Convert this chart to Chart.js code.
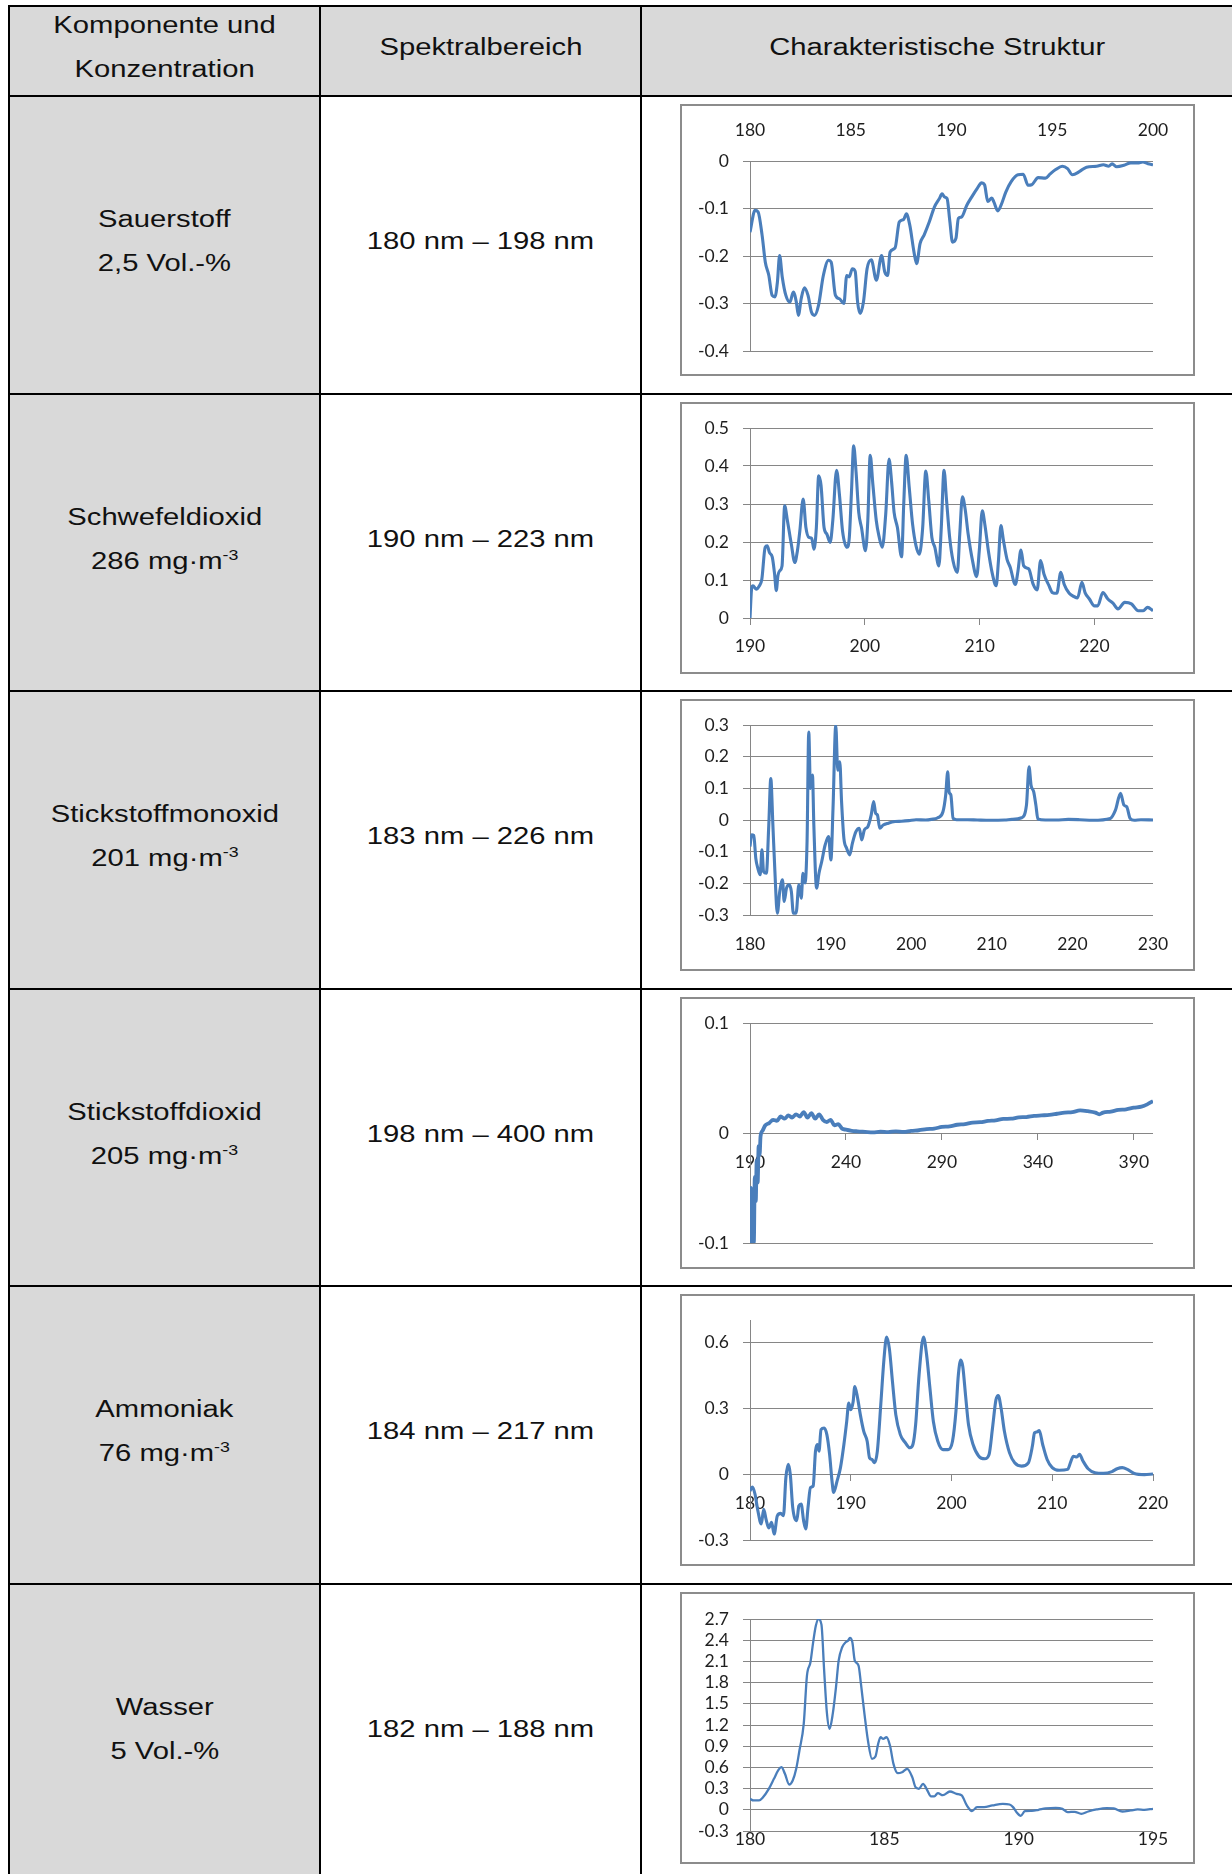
<!DOCTYPE html>
<html>
<head>
<meta charset="utf-8">
<script src="https://cdn.jsdelivr.net/npm/chart.js@4.4.1/dist/chart.umd.min.js"></script>
<style>
body { margin: 0; background: #fff; }
#page { position: relative; width: 1232px; height: 1874px; overflow: hidden; font-family: "Liberation Sans", Arial, sans-serif; color: #111; }
.bg { position: absolute; background: #d9d9d9; }
.hl { position: absolute; left: 8px; width: 1240px; height: 2px; background: #000; }
.vl { position: absolute; top: 5px; width: 2px; height: 1890px; background: #000; }
.cell { position: absolute; display: flex; align-items: center; justify-content: center; text-align: center; font-size: 23px; line-height: 44px; padding-bottom: 8px; box-sizing: border-box; }
.cell span { display: inline-block; transform: scaleX(1.27); white-space: nowrap; }
sup { font-size: 14px; line-height: 0; vertical-align: 9px; }
.box { position: absolute; left: 680px; width: 511px; height: 268px; border: 2px solid #8c8c8c; background: #fff; }
.box canvas { display: block; }
</style>
</head>
<body>
<div id="page"></div>
<script>
// table text
const headers = ['Komponente und<br>Konzentration', 'Spektralbereich', 'Charakteristische Struktur'];
const components = ['Sauerstoff', 'Schwefeldioxid', 'Stickstoffmonoxid', 'Stickstoffdioxid', 'Ammoniak', 'Wasser'];
const concentrations = ['2,5 Vol.-%', '286 mg·m<sup>-3</sup>', '201 mg·m<sup>-3</sup>', '205 mg·m<sup>-3</sup>', '76 mg·m<sup>-3</sup>', '5 Vol.-%'];
const ranges = ['180 nm – 198 nm', '190 nm – 223 nm', '183 nm – 226 nm', '198 nm – 400 nm', '184 nm – 217 nm', '182 nm – 188 nm'];

// Sauerstoff
const o2Wl = [180.0,180.25,180.4,180.6,180.76,180.93,181.1,181.24,181.36,181.47,
  181.6,181.78,181.98,182.15,182.3,182.4,182.54,182.7,182.88,183.05,
  183.2,183.4,183.64,183.9,184.03,184.24,184.44,184.66,184.8,184.92,
  185.08,185.22,185.34,185.47,185.63,185.81,186.02,186.27,186.53,186.69,
  186.83,186.95,187.2,187.41,187.63,187.76,187.93,188.14,188.27,188.44,
  188.64,188.9,189.15,189.4,189.53,189.66,189.78,189.92,190.05,190.22,
  190.34,190.5,190.76,191.0,191.27,191.5,191.64,191.8,192.0,192.1,
  192.3,192.46,192.7,192.97,193.3,193.56,193.8,193.98,194.3,194.66,
  194.9,195.17,195.5,195.76,196.0,196.36,196.7,197.2,197.54,197.8,
  197.97,198.2,198.56,198.9,199.24,199.5,199.75,200.0];
const o2Abs = [-0.15,-0.104,-0.107,-0.156,-0.213,-0.24,-0.283,-0.286,-0.255,-0.199,
  -0.244,-0.283,-0.297,-0.276,-0.297,-0.325,-0.29,-0.267,-0.283,-0.318,
  -0.325,-0.304,-0.241,-0.209,-0.213,-0.283,-0.29,-0.30,-0.241,-0.244,
  -0.227,-0.232,-0.297,-0.321,-0.297,-0.227,-0.208,-0.251,-0.199,-0.234,
  -0.241,-0.192,-0.183,-0.128,-0.123,-0.111,-0.135,-0.192,-0.216,-0.174,
  -0.156,-0.128,-0.097,-0.079,-0.069,-0.076,-0.079,-0.128,-0.171,-0.163,
  -0.121,-0.118,-0.093,-0.076,-0.058,-0.046,-0.05,-0.085,-0.078,-0.086,
  -0.105,-0.093,-0.065,-0.043,-0.029,-0.028,-0.051,-0.05,-0.035,-0.036,
  -0.027,-0.018,-0.011,-0.016,-0.029,-0.022,-0.013,-0.011,-0.008,-0.011,
  -0.006,-0.012,-0.009,-0.004,-0.004,-0.002,-0.006,-0.008];
const o2XTicks = [180, 185, 190, 195, 200];
const o2YTicks = [-0.4, -0.3, -0.2, -0.1, 0];

// Schwefeldioxid
const so2Wl = [190,190.15,190.26,190.53,190.82,191.03,191.32,191.5,191.7,191.94,
  192.14,192.29,192.43,192.58,192.79,193.02,193.26,193.6,193.9,194.13,
  194.34,194.63,194.87,195.13,195.37,195.57,195.78,195.98,196.19,196.45,
  196.69,196.98,197.21,197.54,197.8,198.06,198.45,198.65,198.83,199.03,
  199.24,199.47,199.71,200.06,200.26,200.47,200.7,201.0,201.23,201.52,
  201.82,202.11,202.35,202.55,202.84,203.2,203.4,203.6,203.87,204.16,
  204.46,204.75,205.04,205.31,205.57,205.84,206.1,206.45,206.66,206.9,
  207.1,207.39,207.68,208.06,208.27,208.5,208.74,209.0,209.38,209.74,
  209.97,210.23,210.47,210.76,211.11,211.44,211.64,211.85,212.08,212.38,
  212.67,213.11,213.34,213.6,213.84,214.28,214.66,215.01,215.31,215.6,
  216.04,216.33,216.72,217.07,217.36,217.8,218.24,218.53,218.91,219.18,
  219.56,220.0,220.29,220.73,221.17,221.61,222.05,222.64,223.22,223.81,
  224.25,224.63,225.1];
const so2Abs = [0,0.08,0.085,0.076,0.085,0.102,0.186,0.19,0.172,0.16,
  0.116,0.072,0.111,0.124,0.137,0.295,0.256,0.194,0.146,0.177,
  0.229,0.313,0.238,0.212,0.21,0.181,0.238,0.374,0.348,0.238,
  0.221,0.199,0.256,0.389,0.321,0.229,0.186,0.212,0.326,0.453,
  0.383,0.278,0.238,0.177,0.256,0.428,0.352,0.256,0.216,0.186,
  0.273,0.418,0.352,0.278,0.238,0.161,0.308,0.428,0.343,0.247,
  0.19,0.168,0.238,0.387,0.308,0.212,0.186,0.137,0.238,0.389,
  0.317,0.212,0.151,0.12,0.221,0.319,0.286,0.221,0.151,0.109,
  0.177,0.282,0.243,0.177,0.116,0.085,0.151,0.243,0.203,0.155,
  0.133,0.088,0.124,0.179,0.137,0.129,0.089,0.074,0.151,0.116,
  0.085,0.067,0.065,0.12,0.089,0.065,0.056,0.053,0.094,0.067,
  0.05,0.032,0.032,0.067,0.05,0.039,0.024,0.041,0.037,0.019,
  0.019,0.028,0.019];
const so2XTicks = [190, 200, 210, 220];
const so2YTicks = [0, 0.1, 0.2, 0.3, 0.4, 0.5];

// Stickstoffmonoxid
const noWl = [180,180.2,180.47,180.72,180.97,181.27,181.48,181.69,182.03,182.33,
  182.58,182.84,183.09,183.39,183.69,184.03,184.24,184.53,184.87,185.13,
  185.38,185.72,186.06,186.36,186.57,186.82,187.08,187.29,187.5,187.75,
  187.92,188.26,188.56,188.9,189.32,189.75,190.04,190.3,190.64,190.89,
  191.14,191.36,191.65,191.99,192.37,192.71,193.14,193.56,193.86,194.19,
  194.62,195.04,195.34,195.59,195.81,196.1,196.53,197.16,198.0,198.8,
  199.7,200.6,201.8,202.5,203.3,203.94,204.28,204.53,204.7,204.92,
  205.2,205.63,207.0,208.2,209.8,211.6,212.5,213.7,214.3,214.62,
  214.87,215.2,215.47,215.72,216.65,218.0,219.5,220.9,222.5,224.7,
  225.34,225.97,226.4,226.74,227.16,227.67,228.5,230];
const noAbs = [-0.084,-0.047,-0.049,-0.121,-0.152,-0.173,-0.094,-0.163,-0.168,-0.016,
  0.131,-0.016,-0.163,-0.294,-0.226,-0.189,-0.257,-0.215,-0.205,-0.226,
  -0.294,-0.294,-0.205,-0.247,-0.168,-0.199,-0.068,0.278,0.1,0.142,
  -0.016,-0.215,-0.168,-0.131,-0.079,-0.052,-0.126,0.037,0.299,0.157,
  0.184,0.058,-0.058,-0.089,-0.11,-0.073,-0.037,-0.026,-0.063,-0.031,
  -0.021,0.016,0.058,0.021,0.016,-0.026,-0.016,-0.01,-0.005,-0.004,
  -0.002,0.001,0,0.002,0.007,0.026,0.079,0.152,0.089,0.079,
  0.005,0.001,0.001,0,-0.001,0,0.002,0.007,0.047,0.168,
  0.11,0.089,0.047,0.003,0,0,0.002,0.001,-0.001,0.005,
  0.031,0.084,0.047,0.042,0.005,-0.001,0.001,0];
const noXTicks = [180, 190, 200, 210, 220, 230];
const noYTicks = [-0.3, -0.2, -0.1, 0, 0.1, 0.2, 0.3];

// Stickstoffdioxid
const no2Wl = [190,190.5,191,191.5,192,192.5,193,193.5,194,194.5,
  195,195.5,196.5,198,200,202,204,206,208,210,
  212,214,216,218,220,222,224,226,228,230,
  232,234,236,238,240,243,246,250,254,258,
  262,266,270,274,278,282,286,290,294,298,
  302,306,310,314,318,322,326,330,334,338,
  342,346,350,354,358,362,366,370,372,374,
  378,382,386,390,394,397,400];
const no2Abs = [-0.1,-0.05,-0.098,-0.07,-0.1,-0.04,-0.062,-0.025,-0.045,-0.012,
  -0.02,-0.003,0.002,0.007,0.009,0.012,0.011,0.015,0.013,0.016,
  0.014,0.017,0.015,0.019,0.014,0.018,0.013,0.017,0.012,0.01,
  0.012,0.007,0.008,0.004,0.003,0.002,0.0015,0.001,0.0005,0.0012,
  0.0008,0.0015,0.001,0.002,0.0025,0.0035,0.004,0.0055,0.006,0.0075,
  0.008,0.0095,0.0098,0.011,0.0115,0.0128,0.013,0.0142,0.0145,0.0155,
  0.016,0.0165,0.0175,0.0185,0.019,0.0205,0.0198,0.0185,0.017,0.0185,
  0.0195,0.021,0.0215,0.023,0.024,0.026,0.029];
const no2XTicks = [190, 240, 290, 340, 390];
const no2YTicks = [-0.1, 0, 0.1];

// Ammoniak
const nh3Wl = [180,180.24,180.5,180.78,181.12,181.36,181.59,181.86,182.14,182.4,
  182.71,183.05,183.32,183.56,183.8,184,184.24,184.64,184.85,185.08,
  185.32,185.53,185.76,186,186.27,186.5,186.68,186.85,187.05,187.36,
  187.63,187.9,188.14,188.3,188.64,188.98,189.32,189.6,189.8,190,
  190.24,190.4,190.68,190.95,191.29,191.63,191.86,192.1,192.37,192.64,
  192.98,193.29,193.56,193.83,194.14,194.47,194.92,195.42,195.86,196.17,
  196.44,196.78,197.22,197.53,197.86,198.2,198.64,199.15,199.66,200.1,
  200.44,200.68,200.92,201.12,201.39,201.69,202.14,202.71,203.29,203.73,
  204.07,204.41,204.64,204.92,205.25,205.76,206.27,206.95,207.63,208.03,
  208.24,208.47,208.71,209.05,209.49,210,210.68,211.53,211.86,212.1,
  212.44,212.71,213.05,213.56,214.24,215.08,215.93,216.44,216.95,217.46,
  218.14,219.15,220];
const nh3Abs = [-0.077,-0.059,-0.092,-0.167,-0.227,-0.16,-0.205,-0.245,-0.22,-0.273,
  -0.19,-0.179,-0.19,-0.017,0.044,-0.002,-0.152,-0.212,-0.145,-0.137,
  -0.212,-0.25,-0.152,-0.062,-0.054,0.104,0.134,0.104,0.202,0.209,
  0.179,0.089,-0.032,-0.084,-0.032,0.029,0.134,0.239,0.322,0.292,
  0.33,0.398,0.345,0.27,0.194,0.149,0.074,0.066,0.051,0.104,
  0.315,0.518,0.623,0.571,0.42,0.27,0.179,0.142,0.119,0.134,
  0.224,0.45,0.623,0.541,0.39,0.239,0.149,0.111,0.111,0.149,
  0.285,0.45,0.518,0.488,0.36,0.224,0.134,0.081,0.069,0.089,
  0.209,0.337,0.357,0.3,0.194,0.096,0.051,0.036,0.051,0.127,
  0.187,0.191,0.197,0.134,0.066,0.029,0.017,0.021,0.059,0.081,
  0.077,0.089,0.059,0.024,0.006,0.003,0.011,0.024,0.029,0.021,
  0.002,-0.003,0];
const nh3XTicks = [180, 190, 200, 210, 220];
const nh3YTicks = [-0.3, 0, 0.3, 0.6];

// Wasser
const h2oWl = [180,180.13,180.34,180.47,180.7,180.89,181.06,181.17,181.3,181.46,
  181.59,181.72,181.84,182,182.12,182.25,182.35,182.45,182.55,182.66,
  182.76,182.86,182.96,183.08,183.2,183.3,183.43,183.56,183.65,183.72,
  183.81,183.9,184.04,184.13,184.26,184.39,184.54,184.67,184.77,184.86,
  184.96,185.08,185.21,185.34,185.5,185.66,185.85,186.04,186.16,186.29,
  186.44,186.57,186.74,186.86,186.99,187.18,187.44,187.69,187.88,188.07,
  188.26,188.45,188.71,189.02,189.41,189.66,189.79,189.92,190.08,190.23,
  190.49,190.74,191,191.38,191.63,191.82,192.08,192.33,192.59,192.9,
  193.28,193.54,193.86,194.17,194.43,194.68,195];
const h2oAbs = [0.156,0.132,0.132,0.17,0.297,0.438,0.565,0.603,0.509,0.358,
  0.415,0.58,0.839,1.216,1.9,2.088,2.37,2.606,2.7,2.62,
  1.97,1.381,1.145,1.357,1.734,2.111,2.3,2.37,2.394,2.432,
  2.37,2.111,2.041,1.781,1.357,0.98,0.721,0.754,0.933,1.027,
  1.004,1.027,0.909,0.65,0.518,0.532,0.58,0.462,0.32,0.297,
  0.368,0.297,0.189,0.189,0.236,0.207,0.259,0.226,0.203,0.061,
  -0.019,0.038,0.038,0.061,0.085,0.075,0.038,-0.033,-0.085,-0.019,
  -0.014,0,0.019,0.028,0.014,-0.033,-0.028,-0.057,-0.024,0.005,
  0.024,0.019,-0.024,-0.009,0.005,0,0.014];
const h2oXTicks = [180, 185, 190, 195];
const h2oYTicks = [-0.3, 0, 0.3, 0.6, 0.9, 1.2, 1.5, 1.8, 2.1, 2.4, 2.7];

const BLUE = '#4a7ebb';
const GRID = '#868686';
const TXT = '#1e1e1e';
const FONT = { family: 'Lato', size: 17.5, lineHeight: 1 };

const page = document.getElementById('page');
function add(cls, style, html) {
  const d = document.createElement('div');
  d.className = cls;
  Object.assign(d.style, style);
  if (html != null) d.innerHTML = html;
  page.appendChild(d);
  return d;
}
function rowTop(i) { return Math.round(96 + i * 297.5); }

// backgrounds
add('bg', { left: '9px', top: '6px', width: '1240px', height: '90px' });
add('bg', { left: '9px', top: '96px', width: '311px', height: '1800px' });

// header cells
add('cell', { left: '10px', top: '6px', width: '309px', height: '90px' }, '<span>' + headers[0] + '</span>');
add('cell', { left: '321px', top: '6px', width: '320px', height: '90px' }, '<span>' + headers[1] + '</span>');
add('cell', { left: '643px', top: '6px', width: '589px', height: '90px' }, '<span>' + headers[2] + '</span>');

// body rows
for (let i = 0; i < components.length; i++) {
  const t = rowTop(i);
  add('cell', { left: '10px', top: t + 'px', width: '309px', height: '297px' }, '<span>' + components[i] + '<br>' + concentrations[i] + '</span>');
  add('cell', { left: '321px', top: t + 'px', width: '320px', height: '297px' }, '<span>' + ranges[i] + '</span>');
  const box = add('box', { top: (t + 8) + 'px' });
  box.innerHTML = '<canvas id="c' + i + '" width="511" height="268"></canvas>';
}

// grid lines of the table
add('hl', { top: '5px' });
for (let i = 0; i < components.length; i++) add('hl', { top: (rowTop(i) - 1) + 'px' });
add('hl', { top: (rowTop(6) - 1) + 'px' });
[8, 319, 640].forEach(x => add('vl', { left: x + 'px' }));

function pts(xs, ys) { return xs.map((x, i) => ({ x: x, y: ys[i] })); }
function fixTicks(values) { return scale => { scale.ticks = values.map(v => ({ value: v })); }; }
function fmt(v) { return String(Math.round(v * 10) / 10); }

function spectrum(id, xs, ys, o) {
  return new Chart(document.getElementById(id), {
    type: 'line',
    data: {
      datasets: [{
        data: pts(xs, ys),
        borderColor: BLUE,
        borderWidth: o.lw || 3.1,
        pointRadius: 0,
        fill: false,
        cubicInterpolationMode: 'monotone'
      }]
    },
    options: {
      responsive: false,
      animation: false,
      devicePixelRatio: 1,
      plugins: { legend: { display: false }, tooltip: { enabled: false } },
      layout: { padding: { left: 0, right: 40, top: o.padTop, bottom: o.padBottom } },
      scales: {
        x: {
          type: 'linear',
          min: o.xMin, max: o.xMax,
          position: o.xPos,
          afterBuildTicks: fixTicks(o.xTicks),
          afterFit: o.xHeight != null ? (s => { s.height = o.xHeight; }) : undefined,
          grid: o.xMarks
            ? { display: true, drawOnChartArea: false, drawTicks: true, tickLength: 7, color: GRID }
            : { display: false, drawTicks: false },
          border: { display: false },
          ticks: { padding: o.xPad, color: TXT, font: FONT, maxRotation: 0, autoSkip: false, callback: v => fmt(v) }
        },
        y: {
          min: o.yMin, max: o.yMax,
          afterBuildTicks: fixTicks(o.yTicks),
          afterFit: s => { s.width = 68; },
          grid: { color: GRID, drawTicks: true, tickLength: 7 },
          border: { display: true, color: GRID },
          ticks: { padding: 14, color: TXT, font: FONT, autoSkip: false, callback: v => fmt(v) }
        }
      }
    }
  });
}

spectrum('c0', o2Wl, o2Abs, { xMin: 180, xMax: 200, yMin: -0.4, yMax: 0, xTicks: o2XTicks, yTicks: o2YTicks,
  xPos: 'top', xHeight: 55, xPad: 22, padTop: 0, padBottom: 23 });
spectrum('c1', so2Wl, so2Abs, { xMin: 190, xMax: 225.1, yMin: 0, yMax: 0.5, xTicks: so2XTicks, yTicks: so2YTicks,
  xPos: 'bottom', xHeight: 54, xPad: 13, xMarks: true, padTop: 24, padBottom: 0 });
spectrum('c2', noWl, noAbs, { xMin: 180, xMax: 230, yMin: -0.3, yMax: 0.3, xTicks: noXTicks, yTicks: noYTicks,
  xPos: 'bottom', xHeight: 54, xPad: 20.5, padTop: 24, padBottom: 0 });
spectrum('c3', no2Wl, no2Abs, { xMin: 190, xMax: 400, yMin: -0.1, yMax: 0.1, xTicks: no2XTicks, yTicks: no2YTicks,
  xPos: { y: 0 }, xPad: 13.5, xMarks: true, padTop: 24, padBottom: 24, lw: 3.8 });
spectrum('c4', nh3Wl, nh3Abs, { xMin: 180, xMax: 220, yMin: -0.3, yMax: 0.7, xTicks: nh3XTicks, yTicks: nh3YTicks,
  xPos: { y: 0 }, xPad: 14, xMarks: true, padTop: 24, padBottom: 24 });
spectrum('c5', h2oWl, h2oAbs, { xMin: 180, xMax: 195, yMin: -0.3, yMax: 2.7, xTicks: h2oXTicks, yTicks: h2oYTicks,
  xPos: 'bottom', xHeight: 31, xPad: 0, padTop: 25, padBottom: 0, lw: 2.3 });
</script>
</body>
</html>
